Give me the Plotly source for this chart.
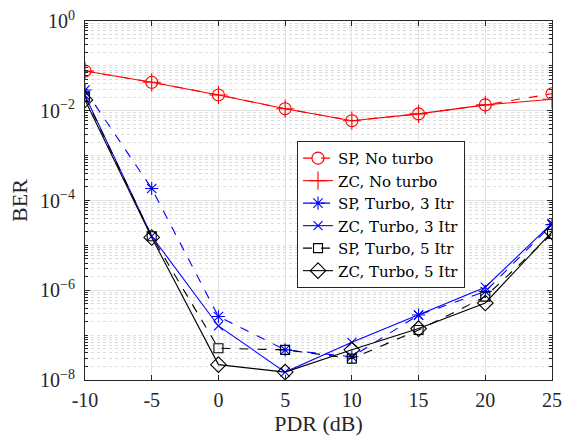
import plotly.graph_objects as go

pdr = [-10, -5, 0, 5, 10, 15, 20, 25]
sp_noturbo = [0.077, 0.043, 0.0225, 0.0111, 0.006, 0.0085, 0.0135, 0.024]
zc_noturbo = [0.077, 0.043, 0.0225, 0.0111, 0.006, 0.0085, 0.0135, 0.018]
sp_turbo3 = [0.029, 1.85e-4, 2.6e-7, 4.7e-8, 3.3e-8, 2.8e-7, 9.4e-7, 2.9e-5]
zc_turbo3 = [0.022, 1.6e-5, 1.6e-7, 1.5e-8, 6.9e-8, 2.8e-7, 1.17e-6, 3.1e-5]
sp_turbo5 = [0.0206, 1.6e-5, 5.1e-8, 4.7e-8, 3.0e-8, 1.3e-7, 7.2e-7, 1.8e-5]
zc_turbo5 = [0.0174, 1.5e-5, 2.2e-8, 1.5e-8, 4.7e-8, 1.4e-7, 5.2e-7, 2.0e-5]

names = ["SP, No turbo", "ZC, No turbo", "SP, Turbo, 3 Itr", "ZC, Turbo, 3 Itr",
         "SP, Turbo, 5 Itr", "ZC, Turbo, 5 Itr"]
series = [sp_noturbo, zc_noturbo, sp_turbo3, zc_turbo3, sp_turbo5, zc_turbo5]
colors = ["#ff0000", "#ff0000", "#0000ff", "#0000ff", "#000000", "#000000"]
dashes = ["dash", "solid", "dash", "solid", "dash", "solid"]
symbols = ["circle-open", "cross-thin-open", "asterisk-open", "x-thin-open",
           "square-open", "diamond-open"]
sizes = [12, 13, 11, 9, 9, 12]

y_major = [1e0, 1e-2, 1e-4, 1e-6, 1e-8]
y_major_text = ["10<sup>0</sup>", "10<sup>−2</sup>", "10<sup>−4</sup>",
                "10<sup>−6</sup>", "10<sup>−8</sup>"]
x_ticks = [-10, -5, 0, 5, 10, 15, 20, 25]

minor_vals = []
for e in range(-8, 0):
    for m in range(1, 10):
        v = m * 10.0 ** e
        if m == 1 and e % 2 == 0:
            continue
        minor_vals.append(v)

fig = go.Figure()
for nm, ys, c, d, s, sz in zip(names, series, colors, dashes, symbols, sizes):
    fig.add_trace(go.Scatter(
        x=pdr, y=ys, name=nm, mode="lines+markers",
        line=dict(color=c, width=1.1, dash=d),
        marker=dict(symbol=s, size=sz, color=c, line=dict(color=c, width=1.1)),
    ))

font_family = "Liberation Serif"
fig.update_layout(
    width=563, height=436,
    margin=dict(l=85, r=11, t=21, b=56, autoexpand=False),
    paper_bgcolor="white", plot_bgcolor="white",
    font=dict(family=font_family, size=20, color="#262626"),
    showlegend=True,
    legend=dict(
        x=0.454, y=0.666, xanchor="left", yanchor="top",
        bgcolor="white", bordercolor="#262626", borderwidth=1,
        font=dict(family="DejaVu Serif", size=15, color="black"),
        tracegroupgap=0, itemwidth=30,
    ),
)
fig.update_xaxes(
    range=[-10, 25], tickvals=x_ticks, ticktext=[str(v) for v in x_ticks],
    showgrid=True, gridcolor="#e3e3e3", gridwidth=1,
    showline=True, linecolor="#262626", linewidth=1, mirror="ticks",
    ticks="inside", ticklen=5, tickcolor="#262626",
    zeroline=False, ticklabeloverflow="allow", automargin=False,
    ticklabelstandoff=2,
    title=dict(text="PDR (dB)", font=dict(family=font_family, size=22, color="#262626"), standoff=6),
    tickfont=dict(family=font_family, size=20, color="#262626"),
)
fig.update_yaxes(
    type="log", range=[-8, 0], tickvals=y_major, ticktext=y_major_text,
    showgrid=True, gridcolor="#e3e3e3", gridwidth=1,
    showline=True, linecolor="#262626", linewidth=1, mirror="ticks",
    ticks="inside", ticklen=5, tickcolor="#262626",
    zeroline=False, ticklabeloverflow="allow", automargin=False,
    ticklabelstandoff=5,
    minor=dict(tickvals=minor_vals, showgrid=True, gridcolor="#dcdcdc",
               griddash="dot", gridwidth=1, ticks="inside", ticklen=3,
               tickcolor="#262626"),
    title=dict(text="BER", font=dict(family=font_family, size=22, color="#262626"), standoff=6),
    tickfont=dict(family=font_family, size=20, color="#262626"),
)
# remove the default 8px page margin so the figure sits at the window origin
fig.write_html("out.html", config={"displayModeBar": False},
               post_script="document.body.style.margin='0';")
